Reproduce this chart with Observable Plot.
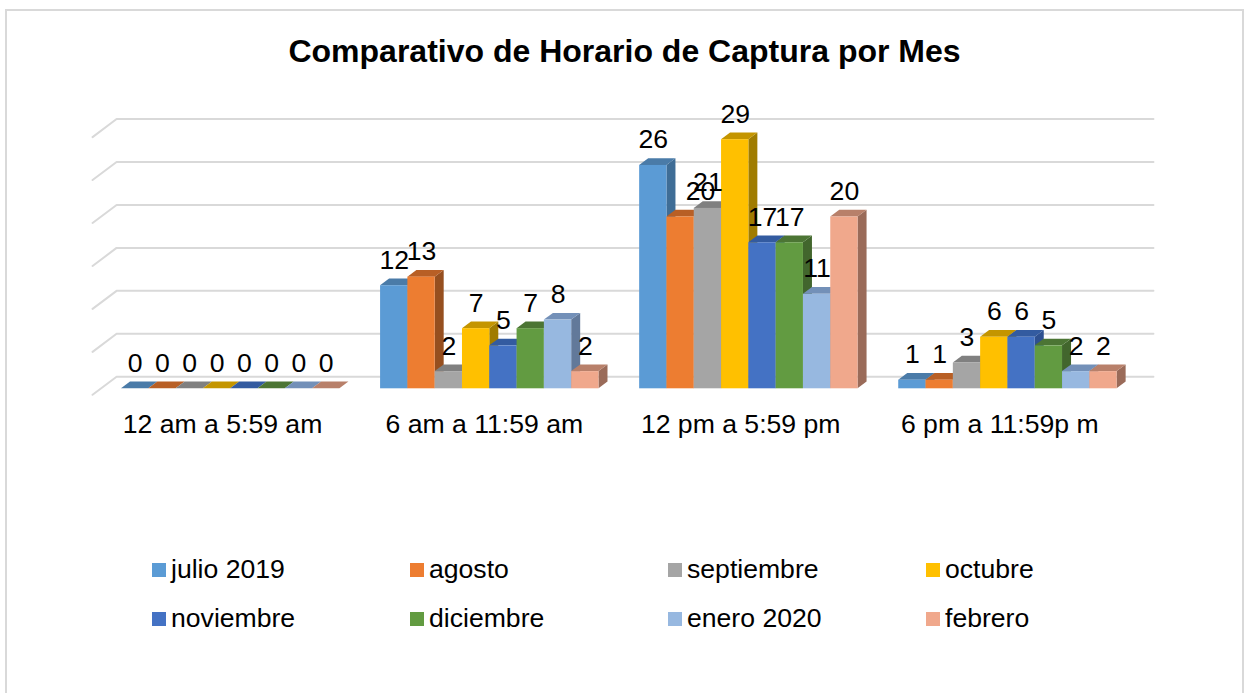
<!DOCTYPE html>
<html>
<head>
<meta charset="utf-8">
<script src="https://cdn.jsdelivr.net/npm/d3@7"></script>
<script src="https://cdn.jsdelivr.net/npm/@observablehq/plot@0.6"></script>
<style>
  html, body { margin: 0; padding: 0; background: #fff; }
  #page { position: relative; width: 1244px; height: 693px; overflow: hidden; font-family: "Liberation Sans", Arial, sans-serif; color: #000; }
  #frame { position: absolute; left: 5px; top: 9px; width: 1239px; height: 700px; border: 2px solid #d9d9d9; box-sizing: border-box; }
  #title { position: relative; height: 90px; padding-top: 33px; box-sizing: border-box; text-align: center; font-weight: bold; font-size: 32px; line-height: 37px; padding-left: 5px; }
  #chart { position: relative; height: 350px; }
  #chart svg { display: block; }
  #legend { position: relative; margin-left: 152px; margin-top: 105px; width: 1032px; display: grid; grid-template-columns: repeat(4, 258px); grid-auto-rows: 49px; }
  .item { display: flex; align-items: center; height: 49px; font-size: 26.6px; }
  .sw { width: 14px; height: 14px; margin-right: 5px; flex: none; }
</style>
</head>
<body>
<div id="page">
  <div id="frame"></div>
  <div id="title">Comparativo de Horario de Captura por Mes</div>
  <div id="chart"></div>
  <div id="legend"></div>
</div>
<script>
// categories
const horarios = ["12 am a 5:59 am", "6 am a 11:59 am", "12 pm a 5:59 pm", "6 pm a 11:59p m"];
const meses = ["julio 2019", "agosto", "septiembre", "octubre", "noviembre", "diciembre", "enero 2020", "febrero"];

// series values, one per month, in the order of horarios
const julio = [0, 12, 26, 1];
const agosto = [0, 13, 20, 1];
const septiembre = [0, 2, 21, 3];
const octubre = [0, 7, 29, 6];
const noviembre = [0, 5, 17, 6];
const diciembre = [0, 7, 17, 5];
const enero = [0, 8, 11, 2];
const febrero = [0, 2, 20, 2];
const valores = [julio, agosto, septiembre, octubre, noviembre, diciembre, enero, febrero];

// colours: front, top and side face of each month's bar
const frente = ["#5b9bd5", "#ed7d31", "#a5a5a5", "#ffc000", "#4472c4", "#629b41", "#97b8e0", "#f0a88c"];
const tapa   = ["#4a7ba8", "#b85f25", "#808080", "#c49500", "#335ba0", "#4c7534", "#7390b8", "#b8806a"];
const lado   = ["#3f6d96", "#964f1f", "#6f6f6f", "#a07c00", "#2e5090", "#42662d", "#62799a", "#9a6b59"];

const ticksY = [0, 5, 10, 15, 20, 25, 30];

// layout of the pseudo-3D box, in scale units (x: bar widths, y: chart values)
const pasoGrupo = 9.49, fondoX = 0.33, fondoY = 0.78;
const xEtiquetas = [3.70, 13.29, 22.68, 32.17];
// the "20" of agosto in the afternoon group is shifted right in the reference
const desplazaEtiqueta = (d) => (d.s === 1 && d.g === 2 ? 0.73 : 0);

const rows = [];
valores.forEach((serie, s) => serie.forEach((v, g) => rows.push({s, g, v, x0: g * pasoGrupo + s})));

const gridRows = ticksY.flatMap(t => [
  {t, x: -1.06, y: t - 0.7},
  {t, x: -0.18, y: t + 1.4},
  {t, x: 37.8, y: t + 1.4}
]);

const barMarks = meses.flatMap((m, s) => {
  const own = rows.filter(d => d.s === s);
  const side = own.flatMap(d => [
    {id: d.g, x1: d.x0 + 1, y1: 0, x2: d.x0 + 1, y2: d.v},
    {id: d.g, x1: d.x0 + 1 + fondoX, y1: fondoY, x2: d.x0 + 1 + fondoX, y2: d.v + fondoY}
  ]);
  const top = own.flatMap(d => [
    {id: d.g, x1: d.x0, y1: d.v, x2: d.x0 + fondoX, y2: d.v + fondoY},
    {id: d.g, x1: d.x0 + 1, y1: d.v, x2: d.x0 + 1 + fondoX, y2: d.v + fondoY}
  ]);
  return [
    Plot.area(side, {x1: "x1", y1: "y1", x2: "x2", y2: "y2", z: "id", fill: lado[s]}),
    Plot.area(top, {x1: "x1", y1: "y1", x2: "x2", y2: "y2", z: "id", fill: tapa[s]}),
    Plot.rect(own, {x1: "x0", x2: d => d.x0 + 1, y1: 0, y2: "v", fill: frente[s]})
  ];
});

const fig = Plot.plot({
  width: 1244,
  height: 350,
  marginLeft: 0, marginRight: 0, marginTop: 0, marginBottom: 50,
  style: {fontFamily: '"Liberation Sans", Arial, sans-serif', background: "transparent", color: "#000"},
  x: {type: "linear", domain: [0, 38], range: [121, 121 + 38 * 27.3]},
  y: {type: "linear", domain: [0, 30], range: [298.3, 40.6]},
  marks: [
    Plot.line(gridRows, {x: "x", y: "y", z: "t", stroke: "#d9d9d9", strokeWidth: 2}),
    ...barMarks,
    Plot.text(rows, {x: d => d.x0 + 0.5 + desplazaEtiqueta(d), y: "v", text: d => String(d.v), dy: -25.5, fontSize: 26.6, fill: "#000"}),
    Plot.axisX(xEtiquetas, {
      anchor: "bottom", tickSize: 0, tickPadding: 24, fontSize: 26.6, label: null,
      tickFormat: d => horarios[xEtiquetas.indexOf(d)]
    }),
    Plot.axisY({ticks: [], label: null, tickSize: 0})
  ]
});
document.getElementById("chart").appendChild(fig);

const legend = document.getElementById("legend");
meses.forEach((m, i) => {
  const item = document.createElement("div");
  item.className = "item";
  const sw = document.createElement("span");
  sw.className = "sw";
  sw.style.background = frente[i];
  const t = document.createElement("span");
  t.textContent = m;
  item.append(sw, t);
  legend.appendChild(item);
});
</script>
</body>
</html>
